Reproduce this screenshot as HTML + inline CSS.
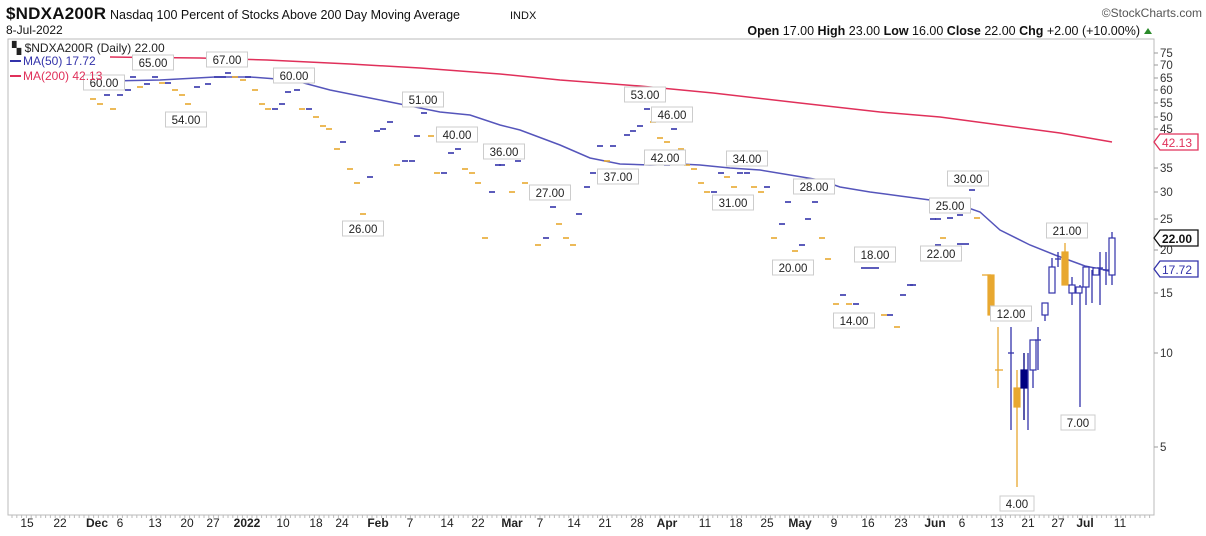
<!DOCTYPE html>
<html><head><meta charset="utf-8"><style>
body{margin:0;background:#fff;width:1206px;height:536px;overflow:hidden;font-family:"Liberation Sans",sans-serif}
svg{position:absolute;left:0;top:0}
</style></head><body>
<svg id="s" width="1206" height="536" xmlns="http://www.w3.org/2000/svg" font-family="Liberation Sans, sans-serif">
<text x="6" y="19" font-size="17" font-weight="bold" fill="#111" textLength="100">$NDXA200R</text>
<text x="110" y="19" font-size="12.5" fill="#111">Nasdaq 100 Percent of Stocks Above 200 Day Moving Average</text>
<text x="510" y="19" font-size="11" fill="#111">INDX</text>
<text x="6" y="34" font-size="12" fill="#111">8-Jul-2022</text>
<text x="1202" y="17" font-size="12" fill="#555" text-anchor="end">©StockCharts.com</text>
<text x="1140" y="35" font-size="12.5" fill="#111" text-anchor="end"><tspan font-weight="bold">Open</tspan> 17.00 <tspan font-weight="bold">High</tspan> 23.00 <tspan font-weight="bold">Low</tspan> 16.00 <tspan font-weight="bold">Close</tspan> 22.00 <tspan font-weight="bold">Chg</tspan> +2.00 (+10.00%)</text>
<polygon points="1144,34 1148,28 1152,34" fill="#2a8a2a"/>
<rect x="8" y="39" width="1146" height="476" fill="none" stroke="#bbb"/>
<g id="g"></g>
<text x="12" y="52" font-size="12" fill="#222">▚ $NDXA200R (Daily) 22.00</text>
<line x1="10" y1="61" x2="21" y2="61" stroke="#3333aa" stroke-width="2"/>
<text x="23" y="65" font-size="12" fill="#3333aa">MA(50) 17.72</text>
<line x1="10" y1="76" x2="21" y2="76" stroke="#e0305a" stroke-width="2"/>
<text x="23" y="80" font-size="12" fill="#e0305a">MA(200) 42.13</text>
</svg>
<script>
const g=document.getElementById('g');let h='';
const B='#3333aa',O='#e8a830';
h+='<polyline fill="none" stroke="#e0305a" stroke-width="1.5" points="110,57 200,58 267,60 350,64 420,68 500,74 560,80 640,86 713,93 800,103 880,112 940,117 1000,125 1060,133 1112,142"/>';
h+='<polyline fill="none" stroke="#5555bb" stroke-width="1.5" points="110,81 160,80 215,77 250,77 290,80 300,82 330,90 370,98 400,104 440,112 470,115 500,125 520,130 560,145 590,158 620,164 650,165 680,164 700,165 730,168 760,170 790,175 820,180 840,187 870,192 900,196 930,200 960,205 980,212 1000,230 1030,245 1055,255 1085,266 1105,270 1112,272"/>';
const d=[[87,87,B],[107,95,B],[93,99,O],[100,104,O],[120,95,B],[128,90,B],[113,109,O],[133,77,B],[140,87,O],[147,84,B],[155,77,B],[162,83,O],[168,83,B],[175,90,O],[182,95,O],[188,104,O],[197,87,B],[208,84,B],[217,77,B],[228,73,B],[223,77,B],[235,77,O],[243,80,O],[248,77,B],[255,90,O],[262,104,O],[268,109,O],[275,109,B],[282,104,B],[288,92,B],[297,90,B],[302,109,O],[309,109,B],[316,117,O],[323,126,O],[329,129,O],[343,142,B],[337,149,O],[350,169,O],[357,183,O],[370,177,B],[363,214,O],[377,131,B],[383,129,B],[390,122,B],[397,165,O],[405,161,B],[412,161,B],[417,136,B],[424,113,B],[431,136,O],[437,173,O],[444,173,B],[451,153,B],[458,149,B],[465,169,O],[472,173,O],[478,183,O],[492,192,B],[485,238,O],[498,165,B],[502,165,B],[518,161,B],[512,192,O],[525,183,O],[532,192,O],[553,207,B],[538,245,O],[546,238,B],[559,224,O],[566,238,O],[573,245,O],[579,214,B],[587,187,B],[593,173,B],[607,161,O],[600,146,B],[613,146,B],[627,135,B],[633,131,B],[640,126,B],[647,109,B],[653,122,O],[660,138,O],[667,142,O],[674,129,B],[681,149,O],[667,165,B],[687,165,O],[694,169,O],[701,183,O],[707,192,O],[714,192,B],[721,173,B],[727,177,O],[734,187,O],[740,173,B],[747,173,B],[754,187,O],[761,192,O],[767,187,B],[774,238,O],[782,224,B],[788,202,B],[795,251,O],[802,245,B],[808,219,B],[815,202,B],[822,238,O],[828,259,O],[843,295,B],[836,304,O],[849,304,O],[856,304,B],[864,268,B],[870,268,B],[876,268,B],[884,315,O],[890,315,B],[897,327,O],[903,295,B],[913,285,B],[923,259,B],[933,219,B],[938,219,B],[943,238,O],[950,218,B],[960,215,B],[968,200,O],[972,190,B],[977,218,O],[938,245,B],[960,244,B],[966,244,B],[910,285,B]];
d.forEach(([x,y,c])=>h+=`<line x1="${x-3}" y1="${y}" x2="${x+3}" y2="${y}" stroke="${c}" stroke-width="1.6"/>`);
const L=(x1,y1,x2,y2,c)=>h+=`<line x1="${x1}" y1="${y1}" x2="${x2}" y2="${y2}" stroke="${c}" stroke-width="1.3"/>`;
const R=(x,y1,y2,c,f)=>h+=`<rect x="${x-3}" y="${y1}" width="6" height="${y2-y1}" fill="${f}" stroke="${c}" stroke-width="1.2"/>`;
L(982,275,991,275,O);R(991,275,315,O,O);
L(998,327,998,388,O);L(995,370,1003,370,O);
L(1011,327,1011,430,B);L(1008,353,1014,353,B);
L(1017,370,1017,487,O);R(1017,388,407,O,O);
L(1024,353,1024,420,'#000080');R(1024,370,388,'#000080','#000080');
L(1028,353,1028,430,B);
L(1033,340,1033,388,B);R(1033,340,370,B,'#fff');
L(1038,327,1038,370,B);L(1035,340,1041,340,B);
R(1045,303,315,B,'#fff');L(1045,315,1045,321,B);
L(1052,258,1052,293,B);R(1052,267,293,B,'#fff');
L(1058,252,1058,267,B);L(1055,259,1061,259,B);
L(1065,243,1065,285,O);R(1065,252,285,O,O);
L(1072,277,1072,305,B);R(1072,285,293,B,'#fff');
L(1080,285,1080,407,B);R(1079,287,293,B,'#fff');
L(1086,267,1086,305,B);R(1086,267,287,B,'#fff');
L(1092,270,1092,303,B);R(1096,268,275,B,'#fff');
L(1100,252,1100,305,B);L(1097,268,1103,268,B);
L(1106,252,1106,285,B);L(1103,270,1109,270,B);
L(1112,232,1112,285,B);R(1112,238,275,B,'#fff');
const lb=[["60.00",104,75],["65.00",153,55],["67.00",227,52],["54.00",186,112],["60.00",294,68],["26.00",363,221],["51.00",423,92],["40.00",457,127],["36.00",504,144],["27.00",550,185],["37.00",618,169],["53.00",645,87],["46.00",672,107],["42.00",665,150],["34.00",747,151],["31.00",733,195],["28.00",814,179],["20.00",793,260],["18.00",875,247],["14.00",854,313],["22.00",941,246],["25.00",950,198],["30.00",968,171],["12.00",1011,306],["21.00",1067,223],["4.00",1017,496],["7.00",1078,415]];
lb.forEach(([t,x,y])=>{const w=t.length*7+6;h+=`<rect x="${x-w/2}" y="${y}" width="${w}" height="15" fill="#fff" stroke="#ccc"/><text x="${x}" y="${y+12}" font-size="11.5" fill="#222" text-anchor="middle">${t}</text>`;});
const ax=[[75,53],[70,65],[65,78],[60,90],[55,103],[50,117],[45,129],[35,168],[30,192],[25,219],[20,250],[15,293],[10,353],[5,447]];
ax.forEach(([v,y])=>{h+=`<line x1="1154" y1="${y}" x2="1158" y2="${y}" stroke="#999"/><text x="1160" y="${y+4}" font-size="11.5" fill="#333">${v}</text>`;});
const tag=(y,t,c,b)=>h+=`<path d="M1154,${y} l6,-8 h38 v16 h-38 z" fill="#fff" stroke="${c}" stroke-width="1.3"/><text x="1162" y="${y+5}" font-size="12" fill="${c}" ${b?'font-weight="bold"':''}>${t}</text>`;
tag(142,"42.13","#e0305a");tag(238,"22.00","#111",1);tag(269,"17.72","#3333aa");
const xa=[["15",27],["22",60],["Dec",97,1],["6",120],["13",155],["20",187],["27",213],["2022",247,1],["10",283],["18",316],["24",342],["Feb",378,1],["7",410],["14",447],["22",478],["Mar",512,1],["7",540],["14",574],["21",605],["28",637],["Apr",667,1],["11",705],["18",736],["25",767],["May",800,1],["9",834],["16",868],["23",901],["Jun",935,1],["6",962],["13",997],["21",1028],["27",1058],["Jul",1085,1],["11",1120]];
xa.forEach(([t,x,b])=>h+=`<text x="${x}" y="527" font-size="12" fill="#222" text-anchor="middle" ${b?'font-weight="bold"':''}>${t}</text>`);
for(let x=12;x<1150;x+=4.8)h+=`<line x1="${x}" y1="515" x2="${x}" y2="518" stroke="#bbb"/>`;
g.innerHTML=h;
</script>
</body></html>
